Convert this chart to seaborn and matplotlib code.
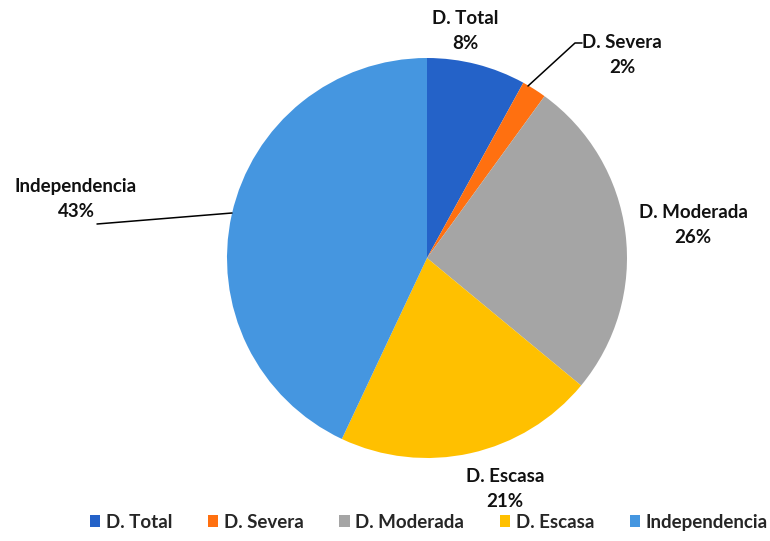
import matplotlib
matplotlib.use("Agg")
import matplotlib.pyplot as plt
import seaborn as sns
from matplotlib.patches import Patch

sns.set_theme(style="white")
plt.rcParams['font.family'] = ['Lato', 'DejaVu Sans']

categories = ["D. Total", "D. Severa", "D. Moderada", "D. Escasa", "Independencia"]
values = [8, 2, 26, 21, 43]
pct_labels = ["8%", "2%", "26%", "21%", "43%"]
colors = ["#2462C8", "#FF7010", "#A5A5A5", "#FFC000", "#4596E0"]

W, H = 770, 541
fig = plt.figure(figsize=(W / 100, H / 100), dpi=100)
ax = fig.add_axes([0, 0, 1, 1])

cx, cy, r = 427, H - 258, 200
wedges, _ = ax.pie(values, colors=colors, startangle=90, counterclock=False,
                   center=(cx, cy), radius=r, frame=True,
                   wedgeprops=dict(linewidth=0))
ax.set_xlim(0, W)
ax.set_ylim(0, H)
ax.set_aspect("equal")
ax.axis("off")

# label positions (pixel coords from top)
label_pos = [(465, 31), (622, 55), (693, 225), (505, 489), (76, 199)]
for cat, pct, (px, py) in zip(categories, pct_labels, label_pos):
    ax.text(px, H - py, f"{cat}\n{pct}", ha="center", va="center",
            fontsize=13.5, fontweight="bold", color="#111111", linespacing=1.6)

# leader lines
ax.plot([528, 575, 582], [H - 86, H - 43, H - 43], color="black", lw=1.1)
ax.plot([97, 232], [H - 224, H - 213], color="black", lw=1.1)

handles = [Patch(facecolor=c, edgecolor="none") for c in colors]
fig.legend(handles, categories, loc="lower center", ncol=5, frameon=False,
           bbox_to_anchor=(0.557, -0.012), handlelength=0.55, handleheight=0.55,
           handletextpad=0.3, columnspacing=1.9,
           prop=dict(size=13.5, weight="bold"))

fig.savefig("out.png", dpi=100)
